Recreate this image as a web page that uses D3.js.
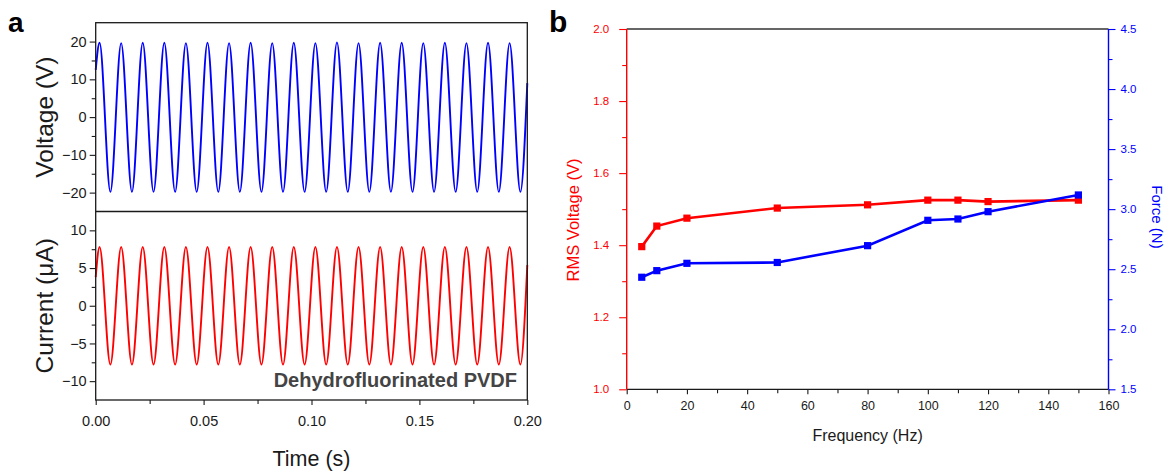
<!DOCTYPE html>
<html>
<head>
<meta charset="utf-8">
<script src="https://cdn.jsdelivr.net/npm/d3@7"></script>
<style>
  html, body { margin: 0; padding: 0; background: #fff; }
  svg { display: block; font-family: "Liberation Sans", Arial, sans-serif; }
</style>
</head>
<body>
<svg id="chart" width="1170" height="472"></svg>
<script>
// ---------- Panel a: voltage / current waveforms (extrema of each cycle) ----------
const waveTimes = [
  0,
  0.0018, 0.0068, 0.0118, 0.0168, 0.0218, 0.0268, 0.0318, 0.0368, 0.0418, 0.0468,
  0.0518, 0.0568, 0.0618, 0.0668, 0.0718, 0.0768, 0.0818, 0.0868, 0.0918, 0.0968,
  0.1018, 0.1068, 0.1118, 0.1168, 0.1218, 0.1268, 0.1318, 0.1368, 0.1418, 0.1468,
  0.1518, 0.1568, 0.1618, 0.1668, 0.1718, 0.1768, 0.1818, 0.1868, 0.1918, 0.1968,
  0.2
];
const voltageValues = [
  12.5,
  19.7, -19.8, 19.6, -19.8, 19.7, -19.8, 19.7, -19.8, 19.6, -19.8,
  19.7, -19.8, 19.6, -19.8, 19.7, -19.8, 19.6, -19.8, 19.7, -19.8,
  19.6, -19.8, 19.8, -19.8, 19.6, -19.8, 19.7, -19.8, 19.7, -19.8,
  19.6, -19.8, 19.7, -19.8, 19.6, -19.8, 19.7, -19.8, 19.6, -19.8,
  9
];
const currentValues = [
  3.8,
  7.8, -7.8, 7.8, -7.8, 7.8, -7.8, 7.8, -7.8, 7.8, -7.8,
  7.8, -7.8, 7.8, -7.8, 7.8, -7.8, 7.8, -7.8, 7.8, -7.8,
  7.8, -7.8, 7.8, -7.8, 7.8, -7.8, 7.8, -7.8, 7.8, -7.8,
  7.8, -7.8, 7.8, -7.8, 7.8, -7.8, 7.8, -7.8, 7.8, -7.8,
  5.4
];
const timeTicks = [0, 0.05, 0.1, 0.15, 0.2];
const timeMinorTicks = [0.025, 0.075, 0.125, 0.175];
const voltageTicks = [-20, -10, 0, 10, 20];
const voltageMinorTicks = [-15, -5, 5, 15];
const currentTicks = [-10, -5, 0, 5, 10];
const currentMinorTicks = [-7.5, -2.5, 2.5, 7.5];

// ---------- Panel b: RMS voltage and force vs. frequency ----------
const frequencies = [5, 10, 20, 50, 80, 100, 110, 120, 150];
const rmsVoltage = [1.396, 1.453, 1.475, 1.503, 1.512, 1.525, 1.525, 1.521, 1.525];
const force = [2.433, 2.488, 2.549, 2.556, 2.696, 2.907, 2.918, 2.979, 3.118];
const freqTicks = [0, 20, 40, 60, 80, 100, 120, 140, 160];
const freqMinorTicks = [10, 30, 50, 70, 90, 110, 130, 150];
const rmsTicks = [1.0, 1.2, 1.4, 1.6, 1.8, 2.0];
const rmsMinorTicks = [1.1, 1.3, 1.5, 1.7, 1.9];
const forceTicks = [1.5, 2.0, 2.5, 3.0, 3.5, 4.0, 4.5];
const forceMinorTicks = [1.75, 2.25, 2.75, 3.25, 3.75, 4.25];

const RED = "#ff0000", BLUE = "#0000ff", INK = "#1a1a1a";
const svg = d3.select("#chart");

function styleAxis(g, color, fontSize) {
  g.select(".domain").remove();
  g.selectAll("line").attr("stroke", color).attr("stroke-width", 1.1);
  g.selectAll("text").attr("fill", color).attr("font-size", fontSize)
    .attr("font-family", "'Liberation Sans', Arial, sans-serif");
}

// ===== Panel a =====
const xA = d3.scaleLinear().domain([0, 0.2]).range([95.7, 527.3]);
const yV = d3.scaleLinear().domain([-25, 25]).range([211.5, 22.7]);
const yI = d3.scaleLinear().domain([-12.5, 12.5]).range([400, 211.5]);

const pa = svg.append("g");

// waveforms
const waveLine = (yScale, values) => d3.line()
  .x((d, i) => xA(waveTimes[i]))
  .y((d, i) => yScale(values[i]))
  .curve(d3.curveMonotoneX)(values);

pa.append("path").attr("d", waveLine(yV, voltageValues))
  .attr("fill", "none").attr("stroke", BLUE).attr("stroke-width", 1.9);
pa.append("path").attr("d", waveLine(yI, currentValues))
  .attr("fill", "none").attr("stroke", RED).attr("stroke-width", 1.9);

// y axes
pa.append("g").attr("transform", "translate(95.7,0)")
  .call(d3.axisLeft(yV).tickValues(voltageTicks).tickSize(6).tickPadding(3).tickFormat(d3.format("d")))
  .call(g => styleAxis(g, INK, 14.5));
pa.append("g").attr("transform", "translate(95.7,0)")
  .call(d3.axisLeft(yV).tickValues(voltageMinorTicks).tickSize(4).tickFormat(""))
  .call(g => styleAxis(g, INK, 14.5));
pa.append("g").attr("transform", "translate(95.7,0)")
  .call(d3.axisLeft(yI).tickValues(currentTicks).tickSize(6).tickPadding(3).tickFormat(d3.format("d")))
  .call(g => styleAxis(g, INK, 14.5));
pa.append("g").attr("transform", "translate(95.7,0)")
  .call(d3.axisLeft(yI).tickValues(currentMinorTicks).tickSize(4).tickFormat(""))
  .call(g => styleAxis(g, INK, 14.5));

// x axis
pa.append("g").attr("transform", "translate(0,400)")
  .call(d3.axisBottom(xA).tickValues(timeTicks).tickSize(5).tickPadding(11).tickFormat(d3.format(".2f")))
  .call(g => styleAxis(g, INK, 14.5));
pa.append("g").attr("transform", "translate(0,400)")
  .call(d3.axisBottom(xA).tickValues(timeMinorTicks).tickSize(4).tickFormat(""))
  .call(g => styleAxis(g, INK, 14.5));

// frames
pa.append("rect").attr("x", xA(0)).attr("y", yV(25))
  .attr("width", xA(0.2) - xA(0)).attr("height", yI(-12.5) - yV(25))
  .attr("fill", "none").attr("stroke", INK).attr("stroke-width", 1.3);
pa.append("line").attr("x1", xA(0)).attr("x2", xA(0.2))
  .attr("y1", yV(-25)).attr("y2", yV(-25))
  .attr("stroke", INK).attr("stroke-width", 1.3);

// titles
pa.append("text").attr("transform", `translate(53,${(yV(25) + yV(-25)) / 2}) rotate(-90)`)
  .attr("text-anchor", "middle").attr("font-size", 24.5).attr("fill", INK).text("Voltage (V)");
pa.append("text").attr("transform", `translate(53,${(yI(12.5) + yI(-12.5)) / 2}) rotate(-90)`)
  .attr("text-anchor", "middle").attr("font-size", 24.5).attr("fill", INK).text("Current (μA)");
pa.append("text").attr("x", (xA(0) + xA(0.2)) / 2).attr("y", 466)
  .attr("text-anchor", "middle").attr("font-size", 21.5).attr("fill", INK).text("Time (s)");
pa.append("text").attr("x", 517).attr("y", 387)
  .attr("text-anchor", "end").attr("font-size", 20).attr("font-weight", "bold")
  .attr("fill", "#444").text("Dehydrofluorinated PVDF");
pa.append("text").attr("x", 8).attr("y", 32)
  .attr("font-size", 28).attr("font-weight", "bold").attr("fill", "#000").text("a");

// ===== Panel b =====
const xB = d3.scaleLinear().domain([0, 160]).range([626.7, 1108.5]);
const yL = d3.scaleLinear().domain([1, 2]).range([389.3, 29]);
const yR = d3.scaleLinear().domain([1.5, 4.5]).range([389.3, 29]);

const pb = svg.append("g");

// frame: top edge
pb.append("line").attr("x1", xB(0)).attr("x2", xB(160)).attr("y1", yL(2)).attr("y2", yL(2))
  .attr("stroke", "#333").attr("stroke-width", 1.3);

// x axis
pb.append("g").attr("transform", `translate(0,${yL(1)})`)
  .call(d3.axisBottom(xB).tickValues(freqTicks).tickSize(5).tickPadding(7).tickFormat(d3.format("d")))
  .call(g => styleAxis(g, INK, 12.5));
pb.append("g").attr("transform", `translate(0,${yL(1)})`)
  .call(d3.axisBottom(xB).tickValues(freqMinorTicks).tickSize(4).tickFormat(""))
  .call(g => styleAxis(g, INK, 12.5));
pb.append("line").attr("x1", xB(0)).attr("x2", xB(160)).attr("y1", yL(1)).attr("y2", yL(1))
  .attr("stroke", INK).attr("stroke-width", 1.3);

// left axis (RMS voltage)
pb.append("g").attr("transform", `translate(${xB(0)},0)`)
  .call(d3.axisLeft(yL).tickValues(rmsTicks).tickSize(7.5).tickPadding(10).tickFormat(d3.format(".1f")))
  .call(g => styleAxis(g, RED, 11.5));
pb.append("g").attr("transform", `translate(${xB(0)},0)`)
  .call(d3.axisLeft(yL).tickValues(rmsMinorTicks).tickSize(4.5).tickFormat(""))
  .call(g => styleAxis(g, RED, 11.5));
pb.append("line").attr("x1", xB(0)).attr("x2", xB(0)).attr("y1", yL(1)).attr("y2", yL(2))
  .attr("stroke", RED).attr("stroke-width", 1.4);

// right axis (force)
pb.append("g").attr("transform", `translate(${xB(160)},0)`)
  .call(d3.axisRight(yR).tickValues(forceTicks).tickSize(7).tickPadding(5).tickFormat(d3.format(".1f")))
  .call(g => styleAxis(g, BLUE, 11.5));
pb.append("g").attr("transform", `translate(${xB(160)},0)`)
  .call(d3.axisRight(yR).tickValues(forceMinorTicks).tickSize(4).tickFormat(""))
  .call(g => styleAxis(g, BLUE, 11.5));
pb.append("line").attr("x1", xB(160)).attr("x2", xB(160)).attr("y1", yR(1.5)).attr("y2", yR(4.5))
  .attr("stroke", BLUE).attr("stroke-width", 1.4);

// series
function drawSeries(values, yScale, color) {
  const line = d3.line().x((d, i) => xB(frequencies[i])).y(d => yScale(d));
  pb.append("path").attr("d", line(values))
    .attr("fill", "none").attr("stroke", color).attr("stroke-width", 2.6);
  pb.selectAll(null).data(values).enter().append("rect")
    .attr("x", (d, i) => xB(frequencies[i]) - 3.6)
    .attr("y", d => yScale(d) - 3.6)
    .attr("width", 7.2).attr("height", 7.2)
    .attr("fill", color);
}
drawSeries(rmsVoltage, yL, RED);
drawSeries(force, yR, BLUE);

// titles
pb.append("text").attr("x", (xB(0) + xB(160)) / 2).attr("y", 441)
  .attr("text-anchor", "middle").attr("font-size", 16).attr("fill", INK).text("Frequency (Hz)");
pb.append("text").attr("transform", `translate(579,220) rotate(-90)`)
  .attr("text-anchor", "middle").attr("font-size", 16.5).attr("fill", RED).text("RMS Voltage (V)");
pb.append("text").attr("transform", `translate(1151.5,217) rotate(90)`)
  .attr("text-anchor", "middle").attr("font-size", 15).attr("fill", BLUE).text("Force (N)");
pb.append("text").attr("x", 549).attr("y", 32)
  .attr("font-size", 30).attr("font-weight", "bold").attr("fill", "#000").text("b");
</script>
</body>
</html>
